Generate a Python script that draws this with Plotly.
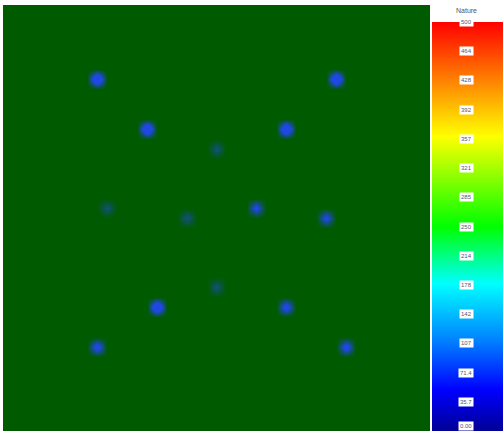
import numpy as np
import plotly.graph_objects as go

# ---- data ----
n_cols = 43
n_rows = 43
spot_col = [9, 33, 14, 28, 21, 10, 18, 25, 32, 21, 15, 28, 9, 34]
spot_row = [7, 7, 12, 12, 14, 20, 21, 20, 21, 28, 30, 30, 34, 34]
spot_level = [2.0, 2.0, 2.0, 2.0, 0.6, 0.55, 0.6, 1.2, 1.2, 0.6, 2.0, 1.4, 1.4, 1.4]

tick_values = [500, 464.3, 428.6, 392.9, 357.1, 321.4, 285.7, 250, 214.3, 178.6, 142.9, 107.1, 71.4, 35.7, 0]
tick_labels = ["500", "464", "428", "392", "357", "321", "285", "250", "214", "178", "142", "107", "71.4", "35.7", "0.00"]
bar_title = "Nature"

# ---- build field ----
z = np.zeros((n_rows, n_cols))
for c, r, v in zip(spot_col, spot_row, spot_level):
    z[r, c] = v

W, H = 503, 431
ml, mt, mr, mb = 3, 5, 3, 0
pw = W - ml - mr
ph = H - mt - mb
plot_w = 427
bar_len = 409

fig = go.Figure()
fig.add_trace(go.Heatmap(
    z=z, zmin=0, zmax=1, zsmooth="best",
    colorscale=[[0, "#005a00"], [1, "#1f48e0"]],
    showscale=False, hoverinfo="skip",
    xaxis="x", yaxis="y",
))

rainbow = [[0, "rgb(0,0,150)"], [0.1, "rgb(0,0,255)"], [0.22, "rgb(0,128,255)"],
           [0.36, "rgb(0,255,255)"], [0.5, "rgb(0,255,0)"], [0.72, "rgb(255,255,0)"],
           [1, "rgb(255,0,0)"]]

fig.add_trace(go.Scatter(
    x=[0] * len(tick_values), y=tick_values, mode="markers",
    marker=dict(size=1, opacity=0, color=tick_values, cmin=0, cmax=500,
                colorscale=rainbow, showscale=True,
                colorbar=dict(
                    x=(432 - ml) / pw, xanchor="left", xpad=0, thickness=71,
                    thicknessmode="pixels", lenmode="pixels", len=bar_len,
                    y=0, yanchor="bottom", ypad=0, outlinewidth=0,
                    ticks="", showticklabels=False,
                )),
    xaxis="x2", yaxis="y2", hoverinfo="skip", showlegend=False,
))

annotations = []
xc = (466 - ml) / pw
for v, t in zip(tick_values, tick_labels):
    annotations.append(dict(
        x=xc, xref="paper", y=v, yref="y2", text=t, showarrow=False,
        font=dict(size=6, color="#555577", family="Arial"),
        bgcolor="white", borderpad=1, xanchor="center",
        yanchor="bottom" if v == 0 else "middle",
    ))
annotations.append(dict(
    x=xc, xref="paper", y=(H - 11) / ph, yref="paper", text=bar_title,
    showarrow=False, font=dict(size=7, color="#555555", family="Arial"),
    xanchor="center", yanchor="middle",
))

fig.update_layout(
    width=W, height=H,
    margin=dict(l=ml, r=mr, t=mt, b=mb, pad=0, autoexpand=False),
    paper_bgcolor="white", plot_bgcolor="#005a00",
    showlegend=False,
    xaxis=dict(domain=[0, plot_w / pw], range=[-0.5, n_cols - 0.5], visible=False),
    yaxis=dict(domain=[0, 1], range=[n_rows - 0.5, -0.5], visible=False),
    xaxis2=dict(domain=[0.9, 1], range=[-1, 1], visible=False, anchor="y2"),
    yaxis2=dict(domain=[0, bar_len / ph], range=[0, 500], visible=False, anchor="x2"),
    annotations=annotations,
)

fig.write_html("out.html",
               config={"displayModeBar": False},
               post_script="document.body.style.margin='0';document.body.style.overflow='hidden';")
